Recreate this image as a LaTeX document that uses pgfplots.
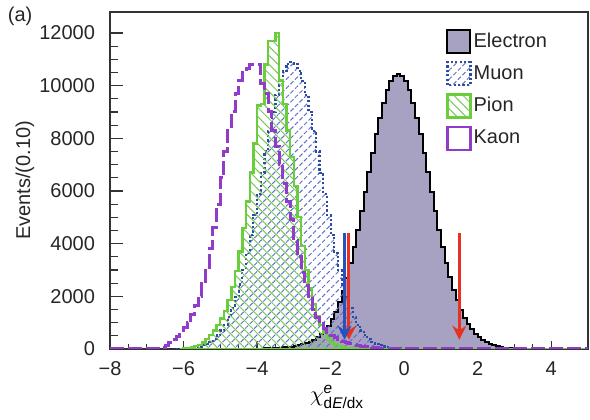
\documentclass[border=0pt]{standalone}
\usepackage{amsmath}
\usepackage{fontspec}
\setmainfont{Liberation Sans}
\usepackage{pgfplots}
\pgfplotsset{compat=1.18}
\usetikzlibrary{patterns.meta,arrows.meta}
\definecolor{efill}{RGB}{167,162,193}
\definecolor{muline}{RGB}{45,75,165}
\definecolor{muhatch}{RGB}{95,110,200}
\definecolor{pion}{RGB}{105,205,60}
\definecolor{pihatch}{RGB}{120,200,90}
\definecolor{kaon}{RGB}{145,60,200}
\definecolor{arred}{RGB}{230,50,35}
\definecolor{arblue}{RGB}{40,80,190}
\begin{document}
\begin{tikzpicture}[font=\fontsize{10}{12}\selectfont]
\begin{axis}[
  scale only axis, width=239pt, height=168.5pt,
  xmin=-8, xmax=5, ymin=0, ymax=12800,
  axis line style={line width=0.7pt, color=black!80},
  every tick/.style={line width=0.6pt, color=black!80},
  xtick={-8,-6,-4,-2,0,2,4},
  xticklabels={−8,−6,−4,−2,0,2,4},
  ytick={0,2000,4000,6000,8000,10000,12000},
  yticklabels={0,2000,4000,6000,8000,10000,12000},
  scaled y ticks=false, scaled x ticks=false,
  minor x tick num=3, minor y tick num=3,
  xtick pos=left, ytick pos=left, tick align=inside,
  x tick style={/pgfplots/major tick length=4pt,/pgfplots/minor tick length=2.5pt},
  y tick style={/pgfplots/major tick length=6.5pt,/pgfplots/minor tick length=4pt},
  x tick label style={yshift=-3pt, text=black!85},
  y tick label style={xshift=-4pt, text=black!85},
  /pgf/number format/assume math mode=true,
  ylabel={Events/(0.10)},
  ylabel style={at={(axis description cs:-0.178,0.5)}, anchor=center, text=black!85},
  xlabel={\fontsize{11}{13}\selectfont$\chi^{\text{\itshape e}}_{\text{d\itshape E\upshape/dx}}$},
  xlabel style={at={(axis description cs:0.475,-0.143)}, anchor=center},
  legend style={at={(axis description cs:0.69,0.962)}, anchor=north west, draw=none, fill=none,
    row sep=3.5pt, nodes={inner sep=1pt}, cells={anchor=west}, text=black!85,
    /tikz/every even column/.append style={column sep=5pt}},
  legend cell align=left,
]
\addplot[const plot, draw=black, line width=1pt, fill=efill,
  legend image code/.code={\draw[draw=black, line width=1pt, fill=efill, solid] (0pt,-5.75pt) rectangle (11.5pt,5.75pt);}]
coordinates {(-5.5,0)(-5.0,1)(-4.9,1)(-4.8,2)(-4.7,2)(-4.6,3)(-4.5,4)(-4.4,5)(-4.3,6)(-4.2,8)(-4.1,10)(-4.0,13)(-3.9,16)(-3.8,20)(-3.7,25)(-3.6,31)(-3.5,38)(-3.4,47)(-3.3,58)(-3.2,72)(-3.1,90)(-3.0,110)(-2.9,140)(-2.8,175)(-2.7,220)(-2.6,280)(-2.5,350)(-2.4,440)(-2.3,560)(-2.2,700)(-2.1,880)(-2.0,1120)(-1.9,1420)(-1.8,1780)(-1.7,2200)(-1.6,2690)(-1.5,3250)(-1.4,3860)(-1.3,4520)(-1.2,5230)(-1.1,5970)(-1.0,6710)(-0.9,7450)(-0.8,8150)(-0.7,8790)(-0.6,9360)(-0.5,9820)(-0.4,10170)(-0.3,10380)(-0.2,10450)(-0.1,10380)(0.0,10170)(0.1,9820)(0.2,9360)(0.3,8790)(0.4,8150)(0.5,7450)(0.6,6710)(0.7,5970)(0.8,5230)(0.9,4520)(1.0,3870)(1.1,3270)(1.2,2730)(1.3,2250)(1.4,1840)(1.5,1490)(1.6,1190)(1.7,940)(1.8,740)(1.9,580)(2.0,450)(2.1,345)(2.2,260)(2.3,195)(2.4,145)(2.5,105)(2.6,75)(2.7,52)(2.8,36)(2.9,25)(3.0,17)(3.1,11)(3.2,7)(3.3,4)(3.4,2)(3.5,1)(3.6,0)} \closedcycle;
\addlegendentry{Electron}
\addplot[const plot, draw=muline, line width=1.1pt, dash pattern=on 1.1pt off 1.1pt,
  pattern={Lines[angle=45,distance=3.2pt,line width=0.5pt]}, pattern color=muhatch,
  legend image code/.code={\draw[draw=muline, line width=1.1pt, dash pattern=on 1.1pt off 1.1pt, pattern={Lines[angle=45,distance=3.2pt,line width=0.5pt]}, pattern color=muhatch] (0pt,-5.75pt) rectangle (11.5pt,5.75pt);}]
coordinates {(-6.2,0)(-6.1,11)(-6.0,18)(-5.9,28)(-5.8,42)(-5.7,63)(-5.6,93)(-5.5,135)(-5.4,190)(-5.3,270)(-5.2,380)(-5.1,520)(-5.0,700)(-4.9,920)(-4.8,1210)(-4.7,1550)(-4.6,1960)(-4.5,2450)(-4.4,3010)(-4.3,3640)(-4.2,4330)(-4.1,5090)(-4.0,5880)(-3.9,6690)(-3.8,7500)(-3.7,8290)(-3.6,9010)(-3.5,9650)(-3.4,10180)(-3.3,10570)(-3.2,10820)(-3.1,10900)(-3.0,10820)(-2.9,10570)(-2.8,10180)(-2.7,9650)(-2.6,9010)(-2.5,8290)(-2.4,7500)(-2.3,6690)(-2.2,5880)(-2.1,5090)(-2.0,4330)(-1.9,3640)(-1.8,3010)(-1.7,2450)(-1.6,1960)(-1.5,1550)(-1.4,1210)(-1.3,920)(-1.2,700)(-1.1,520)(-1.0,380)(-0.9,270)(-0.8,190)(-0.7,135)(-0.6,93)(-0.5,63)(-0.4,42)(-0.3,28)(-0.2,18)(-0.1,11)(0.0,0)} \closedcycle;
\addlegendentry{Muon}
\addplot[const plot, draw=pion, line width=1.2pt,
  pattern={Lines[angle=-45,distance=3.2pt,line width=0.5pt]}, pattern color=pihatch,
  legend image code/.code={\draw[draw=pion, line width=1.2pt, solid, pattern={Lines[angle=-45,distance=3.2pt,line width=0.5pt]}, pattern color=pihatch] (0pt,-5.75pt) rectangle (11.5pt,5.75pt);}]
coordinates {(-6.1,0)(-6.0,20)(-5.9,35)(-5.8,60)(-5.7,100)(-5.6,160)(-5.5,250)(-5.4,370)(-5.3,520)(-5.2,700)(-5.1,900)(-5.0,1150)(-4.9,1450)(-4.8,1850)(-4.7,2350)(-4.6,2950)(-4.5,3700)(-4.4,4600)(-4.3,5600)(-4.2,6700)(-4.1,7800)(-4.0,9250)(-3.9,9300)(-3.8,10800)(-3.7,11700)(-3.6,11700)(-3.5,12000)(-3.4,10200)(-3.3,9300)(-3.2,8300)(-3.1,7300)(-3.0,6200)(-2.9,5000)(-2.8,3900)(-2.7,3000)(-2.6,2300)(-2.5,1700)(-2.4,1250)(-2.3,900)(-2.2,620)(-2.1,420)(-2.0,270)(-1.9,170)(-1.8,100)(-1.7,60)(-1.6,35)(-1.5,20)(-1.4,10)(-1.3,0)(5.0,0)} \closedcycle;
\addlegendentry{Pion}
\addplot[const plot, draw=kaon, line width=1.5pt, dash pattern=on 7pt off 2pt,
  legend image code/.code={\draw[draw=kaon, line width=1.2pt, solid] (0pt,-5.75pt) rectangle (11.5pt,5.75pt);}]
coordinates {(-8.0,0)(-6.6,50)(-6.5,120)(-6.4,230)(-6.3,350)(-6.2,480)(-6.1,620)(-6.0,800)(-5.9,1000)(-5.8,1300)(-5.7,1650)(-5.6,2000)(-5.5,2500)(-5.4,3100)(-5.3,3800)(-5.2,4600)(-5.1,5500)(-5.0,6500)(-4.9,7500)(-4.8,8300)(-4.7,9000)(-4.6,9700)(-4.5,10200)(-4.4,10500)(-4.3,10650)(-4.2,10800)(-4.1,10800)(-4.0,10800)(-3.9,10100)(-3.8,9700)(-3.7,9000)(-3.6,8300)(-3.5,7700)(-3.4,7000)(-3.3,6300)(-3.2,5600)(-3.1,4900)(-3.0,4100)(-2.9,3500)(-2.8,2900)(-2.7,2400)(-2.6,1900)(-2.5,1500)(-2.4,1200)(-2.3,950)(-2.2,780)(-2.1,640)(-2.0,520)(-1.9,420)(-1.8,340)(-1.7,280)(-1.6,230)(-1.5,190)(-1.4,160)(-1.3,130)(-1.2,110)(-1.1,90)(-1.0,70)(-0.9,55)(-0.8,40)(-0.7,30)(-0.6,20)(-0.5,12)(-0.4,8)(-0.3,5)(-0.2,0)(5.0,0)};
\addlegendentry{Kaon}
\addplot[forget plot, draw=arred, line width=1.5pt, -{Stealth[length=7pt,width=7pt]}] coordinates {(-1.5,4400)(-1.5,350)};
\addplot[forget plot, draw=arred, line width=1.5pt, -{Stealth[length=7pt,width=7pt]}] coordinates {(1.5,4400)(1.5,350)};
\addplot[forget plot, draw=arblue, line width=1.5pt, -{Stealth[length=7pt,width=7pt]}] coordinates {(-1.62,4400)(-1.62,350)};
\coordinate (alab) at (axis description cs:-0.188,0.988);
\coordinate (bbl) at (axis description cs:-0.2301,-0.2107);
\coordinate (btr) at (axis description cs:1.0042,1.0326);
\end{axis}
\node[anchor=center, text=black!85] at (alab) {(a)};
\path (bbl) rectangle (btr);
\end{tikzpicture}
\end{document}
